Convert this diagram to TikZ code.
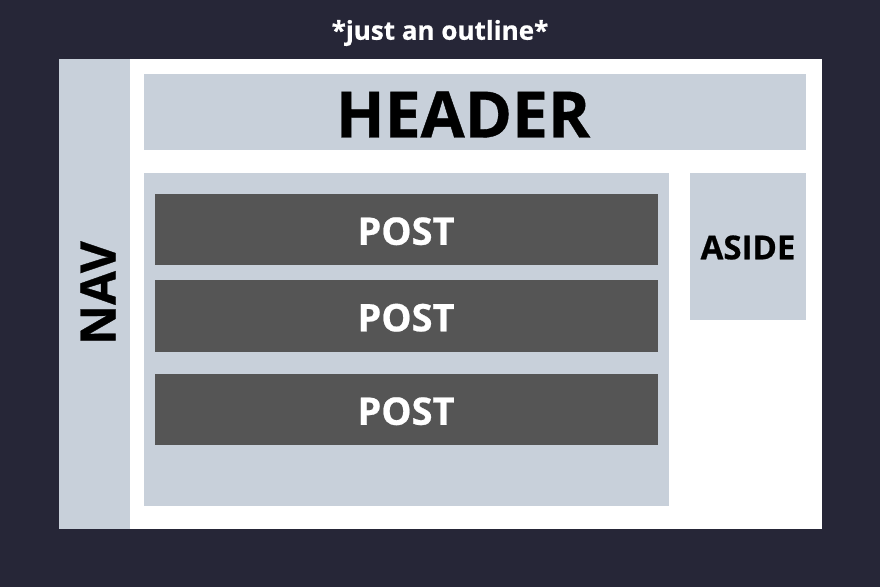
\documentclass[tikz,border=0pt]{standalone}
\usepackage{fontspec}
\setmainfont{Open Sans}[BoldFeatures={FakeBold=0.6}]
\definecolor{bgdark}{HTML}{262637}
\definecolor{boxgray}{HTML}{C8D0DA}
\definecolor{postgray}{HTML}{555555}
\begin{document}
\begin{tikzpicture}[x=1pt,y=-1pt,
  area/.style={fill=boxgray,draw=none},
  postbox/.style={fill=postgray,draw=none},
  lbl/.style={font=\bfseries,inner sep=0pt}]
\fill[bgdark] (0,0) rectangle (880,587);
\useasboundingbox (0,0) rectangle (880,587);
\fill[white] (58.5,58.5) rectangle (821.5,528.5);
\fill[area] (58.5,58.5) rectangle (129.5,528.5);
\fill[area] (143.5,74) rectangle (806,149.5);
\fill[area] (143.5,172.5) rectangle (668.5,505.5);
\fill[postbox] (155,193.5) rectangle (657.5,265);
\fill[postbox] (155,280) rectangle (657.5,351.5);
\fill[postbox] (155,373.5) rectangle (657.5,445);
\fill[area] (690,172.5) rectangle (806,319.5);
\node[lbl,text=white,font=\bfseries\fontsize{26}{28}\selectfont] (title) at (440,33) {*just an outline*};
\node[lbl,rotate=90,font=\bfseries\fontsize{49}{52}\selectfont] (nav) at (98,293) {NAV};
\node[lbl,font=\bfseries\fontsize{64}{70}\selectfont] (header) at (463,114.5) {HEADER};
\node[lbl,text=white,font=\bfseries\fontsize{38}{40}\selectfont] (p1) at (406,231.2) {POST};
\node[lbl,text=white,font=\bfseries\fontsize{38}{40}\selectfont] (p2) at (406,317.7) {POST};
\node[lbl,text=white,font=\bfseries\fontsize{38}{40}\selectfont] (p3) at (406,411.2) {POST};
\node[lbl,font=\bfseries\fontsize{33}{36}\selectfont] (aside) at (748,247.5) {ASIDE};
\end{tikzpicture}
\end{document}
